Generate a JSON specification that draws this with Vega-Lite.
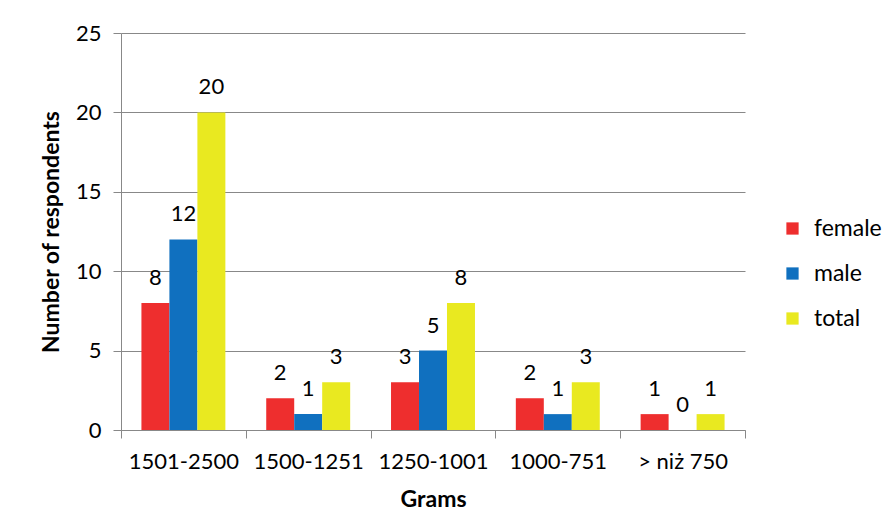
{
  "$schema": "https://vega.github.io/schema/vega-lite/v6.json",
  "width": 624,
  "height": 397,
  "autosize": {"type": "none"},
  "padding": {"left": 121, "top": 33, "right": 146, "bottom": 101},
  "background": "white",
  "config": {
    "font": "Lato",
    "view": {"stroke": null},
    "axis": {"labelFont": "Lato", "titleFont": "Lato", "labelColor": "#000", "titleColor": "#000"}
  },
  "data": {
    "values": [
      {"grams": "1501-2500", "group": "female", "n": 8},
      {"grams": "1501-2500", "group": "male", "n": 12},
      {"grams": "1501-2500", "group": "total", "n": 20},
      {"grams": "1500-1251", "group": "female", "n": 2},
      {"grams": "1500-1251", "group": "male", "n": 1},
      {"grams": "1500-1251", "group": "total", "n": 3},
      {"grams": "1250-1001", "group": "female", "n": 3},
      {"grams": "1250-1001", "group": "male", "n": 5},
      {"grams": "1250-1001", "group": "total", "n": 8},
      {"grams": "1000-751", "group": "female", "n": 2},
      {"grams": "1000-751", "group": "male", "n": 1},
      {"grams": "1000-751", "group": "total", "n": 3},
      {"grams": "> niż 750", "group": "female", "n": 1},
      {"grams": "> niż 750", "group": "male", "n": 0},
      {"grams": "> niż 750", "group": "total", "n": 1}
    ]
  },
  "encoding": {
    "x": {
      "field": "grams", "type": "nominal", "sort": null,
      "scale": {"paddingInner": 0, "paddingOuter": 0},
      "axis": {
        "title": "Grams", "titleFontSize": 23, "titleFontWeight": "bold", "titlePadding": 16,
        "labelFontSize": 22, "labelAngle": 0, "labelPadding": 13,
        "tickBand": "extent", "tickSize": 8, "tickColor": "#888", "domainColor": "#888",
        "grid": false
      }
    },
    "xOffset": {"field": "group", "type": "nominal", "scale": {"paddingInner": 0, "paddingOuter": 0.73}},
    "y": {
      "field": "n", "type": "quantitative",
      "scale": {"domain": [0, 25]},
      "axis": {
        "title": "Number of respondents", "titleFontSize": 23, "titleFontWeight": "bold", "titlePadding": 12,
        "labelFontSize": 22, "labelPadding": 12, "values": [0, 5, 10, 15, 20, 25],
        "tickSize": 8, "tickColor": "#888", "domainColor": "#888", "gridColor": "#888"
      }
    }
  },
  "layer": [
    {
      "mark": {"type": "bar"},
      "encoding": {
        "color": {
          "field": "group", "type": "nominal",
          "scale": {"domain": ["female", "male", "total"], "range": ["#EE2E2E", "#1070BF", "#E9E920"]},
          "legend": {
            "title": null, "orient": "none", "legendX": 660, "legendY": 184,
            "labelFontSize": 23, "symbolType": "square", "symbolSize": 150,
            "rowPadding": 21, "labelOffset": 10, "symbolStrokeWidth": 0
          }
        }
      }
    },
    {
      "mark": {"type": "text", "fontSize": 22, "dy": -25, "baseline": "middle", "color": "#000"},
      "encoding": {"text": {"field": "n", "type": "quantitative"}}
    }
  ]
}
